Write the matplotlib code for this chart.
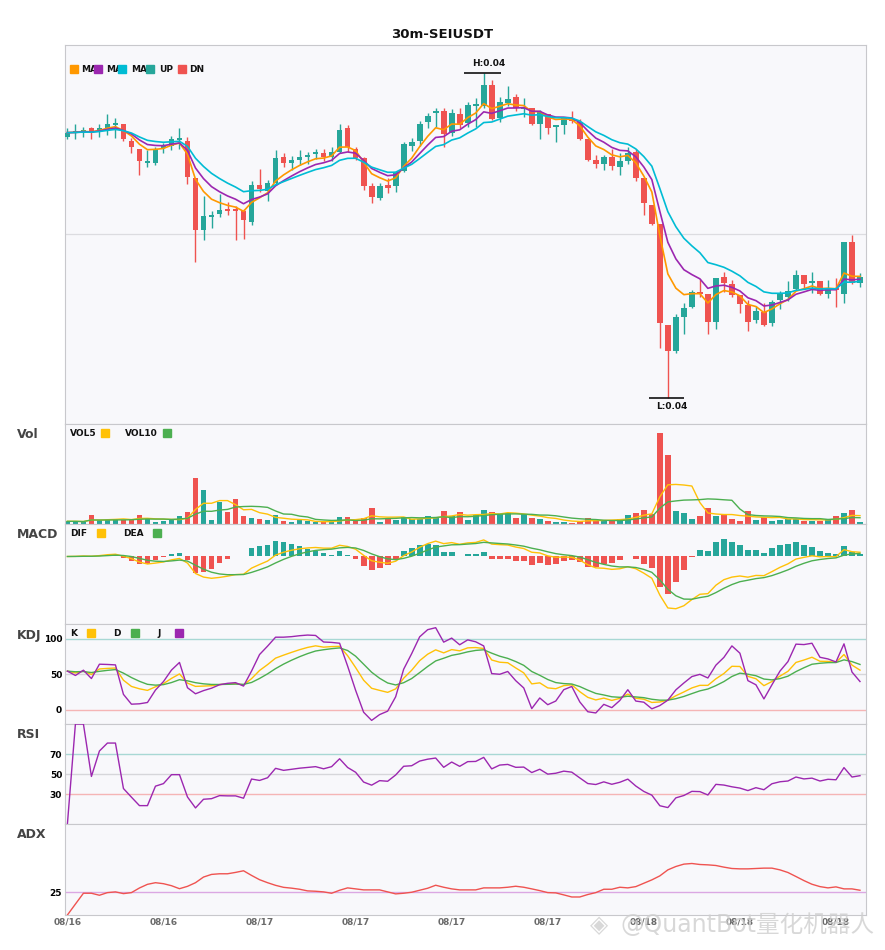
import numpy as np
import pandas as pd
import matplotlib
matplotlib.use("Agg")
import matplotlib.pyplot as plt
from matplotlib.patches import Rectangle

# ==============================
# 1. Candle data (30m)
# ==============================

symbol = "SEIUSDT"
interval = "30m"
start = "2023-08-16 12:30"

open_ = [0.04298, 0.04302, 0.04302, 0.04307, 0.04303, 0.04306, 0.04310, 0.04311, 0.04294, 0.04286,
         0.04272, 0.04272, 0.04287, 0.04289, 0.04295, 0.04294, 0.04257, 0.04205, 0.04218, 0.04221,
         0.04225, 0.04225, 0.04224, 0.04213, 0.04250, 0.04244, 0.04252, 0.04278, 0.04272, 0.04275,
         0.04278, 0.04281, 0.04282, 0.04278, 0.04283, 0.04307, 0.04286, 0.04277, 0.04249, 0.04237,
         0.04250, 0.04249, 0.04264, 0.04289, 0.04294, 0.04313, 0.04322, 0.04324, 0.04302, 0.04321,
         0.04312, 0.04329, 0.04329, 0.04350, 0.04317, 0.04332, 0.04338, 0.04326, 0.04327, 0.04311,
         0.04321, 0.04308, 0.04310, 0.04316, 0.04313, 0.04296, 0.04275, 0.04271, 0.04278, 0.04268,
         0.04274, 0.04283, 0.04257, 0.04230, 0.04211, 0.04110, 0.04084, 0.04118, 0.04128, 0.04143,
         0.04141, 0.04113, 0.04158, 0.04151, 0.04140, 0.04130, 0.04115, 0.04123, 0.04112, 0.04135,
         0.04138, 0.04146, 0.04160, 0.04152, 0.04154, 0.04141, 0.04147, 0.04141, 0.04193, 0.04152]

high = [0.04307, 0.04311, 0.04308, 0.04308, 0.04311, 0.04321, 0.04317, 0.04311, 0.04297, 0.04286,
        0.04285, 0.04288, 0.04292, 0.04299, 0.04307, 0.04298, 0.04257, 0.04239, 0.04224, 0.04241,
        0.04233, 0.04229, 0.04226, 0.04254, 0.04266, 0.04255, 0.04285, 0.04282, 0.04279, 0.04285,
        0.04283, 0.04286, 0.04286, 0.04288, 0.04311, 0.04310, 0.04288, 0.04278, 0.04252, 0.04252,
        0.04257, 0.04264, 0.04293, 0.04297, 0.04314, 0.04322, 0.04327, 0.04327, 0.04326, 0.04327,
        0.04333, 0.04337, 0.04362, 0.04355, 0.04338, 0.04349, 0.04341, 0.04337, 0.04327, 0.04325,
        0.04321, 0.04310, 0.04317, 0.04324, 0.04316, 0.04296, 0.04280, 0.04280, 0.04286, 0.04282,
        0.04288, 0.04286, 0.04257, 0.04230, 0.04211, 0.04110, 0.04121, 0.04132, 0.04145, 0.04156,
        0.04141, 0.04157, 0.04163, 0.04155, 0.04140, 0.04135, 0.04129, 0.04132, 0.04135, 0.04144,
        0.04154, 0.04165, 0.04160, 0.04163, 0.04154, 0.04155, 0.04157, 0.04193, 0.04200, 0.04162]

low = [0.04296, 0.04296, 0.04298, 0.04296, 0.04298, 0.04300, 0.04297, 0.04294, 0.04282, 0.04260,
       0.04268, 0.04270, 0.04282, 0.04285, 0.04286, 0.04251, 0.04173, 0.04195, 0.04207, 0.04218,
       0.04220, 0.04195, 0.04196, 0.04210, 0.04243, 0.04234, 0.04250, 0.04268, 0.04265, 0.04270,
       0.04271, 0.04276, 0.04274, 0.04274, 0.04282, 0.04283, 0.04275, 0.04245, 0.04232, 0.04235,
       0.04242, 0.04243, 0.04263, 0.04284, 0.04289, 0.04307, 0.04308, 0.04288, 0.04299, 0.04307,
       0.04308, 0.04308, 0.04327, 0.04315, 0.04313, 0.04329, 0.04324, 0.04318, 0.04310, 0.04296,
       0.04301, 0.04293, 0.04301, 0.04312, 0.04295, 0.04274, 0.04267, 0.04265, 0.04265, 0.04260,
       0.04271, 0.04254, 0.04220, 0.04210, 0.04087, 0.04037, 0.04082, 0.04101, 0.04127, 0.04138,
       0.04101, 0.04106, 0.04143, 0.04138, 0.04122, 0.04104, 0.04112, 0.04109, 0.04109, 0.04126,
       0.04134, 0.04145, 0.04147, 0.04142, 0.04140, 0.04137, 0.04128, 0.04132, 0.04151, 0.04148]

close = [0.04302, 0.04303, 0.04305, 0.04302, 0.04307, 0.04311, 0.04311, 0.04296, 0.04288, 0.04274,
         0.04274, 0.04286, 0.04288, 0.04296, 0.04296, 0.04258, 0.04205, 0.04219, 0.04220, 0.04225,
         0.04224, 0.04224, 0.04215, 0.04250, 0.04246, 0.04252, 0.04277, 0.04272, 0.04275, 0.04278,
         0.04280, 0.04282, 0.04278, 0.04283, 0.04305, 0.04288, 0.04277, 0.04249, 0.04238, 0.04249,
         0.04247, 0.04263, 0.04291, 0.04293, 0.04311, 0.04319, 0.04324, 0.04301, 0.04322, 0.04310,
         0.04330, 0.04331, 0.04350, 0.04316, 0.04333, 0.04336, 0.04327, 0.04328, 0.04311, 0.04323,
         0.04307, 0.04310, 0.04317, 0.04314, 0.04296, 0.04275, 0.04271, 0.04278, 0.04269, 0.04274,
         0.04282, 0.04257, 0.04232, 0.04211, 0.04112, 0.04084, 0.04118, 0.04127, 0.04143, 0.04141,
         0.04113, 0.04157, 0.04152, 0.04140, 0.04131, 0.04113, 0.04124, 0.04110, 0.04133, 0.04141,
         0.04144, 0.04160, 0.04151, 0.04154, 0.04141, 0.04147, 0.04145, 0.04193, 0.04152, 0.04158]

# volume in thousands
volume = [8, 8, 6, 26, 11, 13, 13, 13, 16, 28,
          15, 5, 8, 13, 25, 35, 136, 100, 13, 65,
          35, 76, 23, 19, 16, 13, 28, 10, 5, 11,
          8, 5, 5, 6, 22, 22, 10, 19, 49, 7,
          17, 11, 21, 14, 14, 25, 18, 40, 23, 37,
          13, 26, 43, 37, 30, 33, 19, 31, 19, 16,
          10, 7, 7, 4, 10, 19, 10, 10, 10, 16,
          28, 34, 43, 31, 271, 205, 40, 34, 16, 25,
          49, 25, 26, 16, 10, 40, 13, 22, 10, 13,
          16, 16, 10, 10, 10, 16, 25, 34, 43, 7]

# ADX line as drawn on the chart
adx = [0, 12, 23.9, 23.9, 21.7, 24.6, 25.4, 23.5, 24.6, 29.7,
       33.7, 35.5, 34.4, 32.2, 28.9, 31.5, 35.5, 41.7, 44.6, 45.3,
       45.3, 46.8, 48.6, 43.5, 38.8, 35.5, 32.6, 30.4, 29.5, 28.3,
       26.5, 26.1, 25.4, 23.9, 27.2, 29.8, 28.7, 27.6, 27.6, 27.6,
       25.4, 23.2, 23.9, 25.0, 27.2, 29.4, 32.7, 30.5, 28.7, 27.6,
       27.6, 27.6, 29.8, 29.8, 29.8, 30.5, 31.6, 30.5, 28.7, 26.8,
       24.6, 24.3, 22.1, 19.8, 19.8, 22.5, 24.6, 28.3, 28.3, 30.5,
       29.8, 31.2, 34.9, 38.6, 43.0, 49.6, 53.3, 55.9, 56.6, 55.5,
       55.1, 54.4, 52.6, 51.1, 50.7, 50.7, 51.1, 51.5, 51.5, 49.6,
       46.7, 42.3, 37.8, 33.8, 31.2, 29.8, 30.9, 28.7, 28.7, 27.2]

df = pd.DataFrame({"open": open_, "high": high, "low": low, "close": close,
                   "volume": volume, "adx": adx},
                  index=pd.date_range(start, periods=len(close), freq="30min"))
x = np.arange(len(df))

# ==============================
# 2. Indicators
# ==============================

c = df["close"]
ma_fast = c.ewm(span=5, adjust=False).mean()
ma_mid = c.ewm(span=8, adjust=False).mean()
ma_slow = c.ewm(span=13, adjust=False).mean()

vol5 = df["volume"].rolling(5, min_periods=1).mean()
vol10 = df["volume"].rolling(10, min_periods=1).mean()

dif = c.ewm(span=6, adjust=False).mean() - c.ewm(span=13, adjust=False).mean()
dea = dif.ewm(span=5, adjust=False).mean()
macd = 2 * (dif - dea)

llv = df["low"].rolling(9, min_periods=1).min()
hhv = df["high"].rolling(9, min_periods=1).max()
rsv = (c - llv) / (hhv - llv) * 100
k = rsv.ewm(com=2, adjust=False).mean()
d = k.ewm(com=2, adjust=False).mean()
j = 3 * k - 2 * d

delta = c.diff()
gain = delta.clip(lower=0).ewm(com=13).mean()
loss = (-delta.clip(upper=0)).ewm(com=13).mean()
rsi = (100 * gain / (gain + loss)).fillna(0)

# ==============================
# 3. Layout
# ==============================

UP = "#26a69a"
DN = "#ef5350"
BG = "#f8f8fb"
EDGE = "#c8c8cc"
W, H = 885, 950
L, R = 65, 866

fig = plt.figure(figsize=(8.85, 9.5), dpi=100)


def panel(top, bottom):
    ax = fig.add_axes([L / W, 1 - bottom / H, (R - L) / W, (bottom - top) / H])
    ax.set_facecolor(BG)
    for s in ax.spines.values():
        s.set_color(EDGE)
    ax.set_xlim(-0.3, len(df) - 0.25)
    ax.tick_params(length=0, labelsize=6.5, pad=2)
    ax.set_xticks([])
    ax.set_yticks([])
    return ax


def key(ax, top, bottom, text, tx, color, sx, y):
    fy = (bottom - y) / (bottom - top)
    ax.text((tx - L) / (R - L), fy, text, transform=ax.transAxes, ha="left",
            va="center", fontsize=6.5, fontweight="bold", color="#111", zorder=6)
    ax.add_patch(Rectangle(((sx - L) / (R - L), fy - 4 / (bottom - top)), 8 / (R - L),
                           8 / (bottom - top), transform=ax.transAxes, color=color,
                           zorder=7, clip_on=False))


colors = np.where(df["close"] >= df["open"], UP, DN)

# ==============================
# 4. Candles + moving averages
# ==============================

ax = panel(45, 424)
lo, hi = df["low"].min(), df["high"].max()
rng = hi - lo
ax.set_ylim(lo - 0.081 * rng, hi + 0.085 * rng)
ax.axhline((lo - 0.081 * rng + hi + 0.085 * rng) / 2, color="#dcdce0", lw=0.9, zorder=0)

body_low = np.minimum(df["open"], df["close"])
body_h = np.maximum((df["close"] - df["open"]).abs(), rng * 0.004)
ax.vlines(x, df["low"], df["high"], colors=colors, lw=1.0, zorder=2)
ax.bar(x, body_h, bottom=body_low, width=0.72, color=colors, zorder=3)

ax.plot(x, ma_fast, color="#ff9800", lw=1.2, zorder=4)
ax.plot(x, ma_mid, color="#9c27b0", lw=1.2, zorder=4)
ax.plot(x, ma_slow, color="#00bcd4", lw=1.2, zorder=4)

ih = int(np.argmax(df["high"]))
il = int(np.argmin(df["low"]))
ax.hlines(df["high"].iloc[ih], ih - 2.4, ih + 2.1, color="#111", lw=1.2, zorder=5)
ax.annotate(f"H:{df['high'].iloc[ih]:.2f}", (ih + 0.6, df["high"].iloc[ih]), xytext=(0, 3),
            textcoords="offset points", ha="center", va="bottom", fontsize=6.5,
            fontweight="bold", color="#111")
ax.hlines(df["low"].iloc[il], il - 2.4, il + 2.0, color="#111", lw=1.2, zorder=5)
ax.annotate(f"L:{df['low'].iloc[il]:.2f}", (il + 0.5, df["low"].iloc[il]), xytext=(0, -3),
            textcoords="offset points", ha="center", va="top", fontsize=6.5,
            fontweight="bold", color="#111")

for txt, tx, col, sx in [("MA", 81, "#ff9800", 70), ("MA", 106, "#9c27b0", 94),
                         ("MA", 131, "#00bcd4", 118), ("UP", 159, UP, 146),
                         ("DN", 189, DN, 178)]:
    key(ax, 45, 424, txt, tx, col, sx, 69)

# ==============================
# 5. Volume
# ==============================

ax = panel(424, 524)
ax.bar(x, df["volume"], width=0.72, color=colors, zorder=2)
ax.plot(x, vol5, color="#ffc107", lw=1.0, zorder=3)
ax.plot(x, vol10, color="#4caf50", lw=1.0, zorder=3)
ax.set_ylim(0, df["volume"].max() * 1.1)
key(ax, 424, 524, "VOL5", 70, "#ffc107", 101, 433)
key(ax, 424, 524, "VOL10", 125, "#4caf50", 163, 433)

# ==============================
# 6. MACD
# ==============================

ax = panel(524, 624)
ax.bar(x, macd, width=0.72, color=np.where(macd >= 0, UP, DN), zorder=2)
ax.plot(x, dif, color="#ffc107", lw=1.0, zorder=3)
ax.plot(x, dea, color="#4caf50", lw=1.0, zorder=3)
m_lo = min(dif.min(), dea.min(), macd.min())
m_hi = max(dif.max(), dea.max(), macd.max())
ax.set_ylim(m_lo - 0.22 * (m_hi - m_lo), m_hi + 0.22 * (m_hi - m_lo))
key(ax, 524, 624, "DIF", 70, "#ffc107", 97, 533)
key(ax, 524, 624, "DEA", 123, "#4caf50", 153, 533)

# ==============================
# 7. KDJ
# ==============================

ax = panel(624, 724)
for lvl, col in [(100, "#a8d8d4"), (50, "#d6d6da"), (0, "#f5b5b5")]:
    ax.axhline(lvl, color=col, lw=1.0, zorder=1)
ax.plot(x, k, color="#ffc107", lw=1.0, zorder=3)
ax.plot(x, d, color="#4caf50", lw=1.0, zorder=3)
ax.plot(x, j, color="#9c27b0", lw=1.0, zorder=3)
ax.set_ylim(-20, 121)
ax.set_yticks([0, 50, 100])
ax.set_yticklabels(["0", "50", "100"], fontweight="bold")
key(ax, 624, 724, "K", 70, "#ffc107", 87, 633)
key(ax, 624, 724, "D", 113, "#4caf50", 131, 633)
key(ax, 624, 724, "J", 157, "#9c27b0", 175, 633)

# ==============================
# 8. RSI
# ==============================

ax = panel(724, 824)
for lvl, col in [(70, "#a8d8d4"), (50, "#d6d6da"), (30, "#f5b5b5")]:
    ax.axhline(lvl, color=col, lw=1.0, zorder=1)
ax.plot(x, rsi, color="#9c27b0", lw=1.0, zorder=3)
ax.set_ylim(0, 100)
ax.set_yticks([30, 50, 70])
ax.set_yticklabels(["30", "50", "70"], fontweight="bold")

# ==============================
# 9. ADX
# ==============================

ax = panel(824, 915)
ax.axhline(25, color="#dba8e3", lw=1.0, zorder=1)
ax.plot(x, df["adx"], color="#ef5350", lw=1.0, zorder=3)
ax.set_ylim(0, 100)
ax.set_yticks([25])
ax.set_yticklabels(["25"], fontweight="bold")
ax.set_xticks(x[::12])
ax.set_xticklabels(df.index[::12].strftime("%m/%d"), fontweight="bold", color="#6b6b6b")

# ==============================
# 10. Titles and labels
# ==============================

fig.text(0.5, 1 - 35 / H, f"{interval}-{symbol}", ha="center", va="center",
         fontsize=9.5, fontweight="bold", color="#111")
for name, y in [("Vol", 434), ("MACD", 535), ("KDJ", 636), ("RSI", 735), ("ADX", 835)]:
    fig.text(17 / W, 1 - y / H, name, ha="left", va="center", fontsize=9,
             fontweight="bold", color="#444")

# watermark
fig.text(590 / W, 1 - 925 / H, "◈", ha="left", va="center", fontsize=17,
         color="#cfcfcf", alpha=0.8, family=["DejaVu Sans"])
fig.text(620 / W, 1 - 925 / H, "@QuantBot量化机器人", ha="left", va="center",
         fontsize=17, color="#cfcfcf", alpha=0.8,
         family=["DejaVu Sans", "Noto Sans CJK SC"])

plt.savefig("out.png", dpi=100)
